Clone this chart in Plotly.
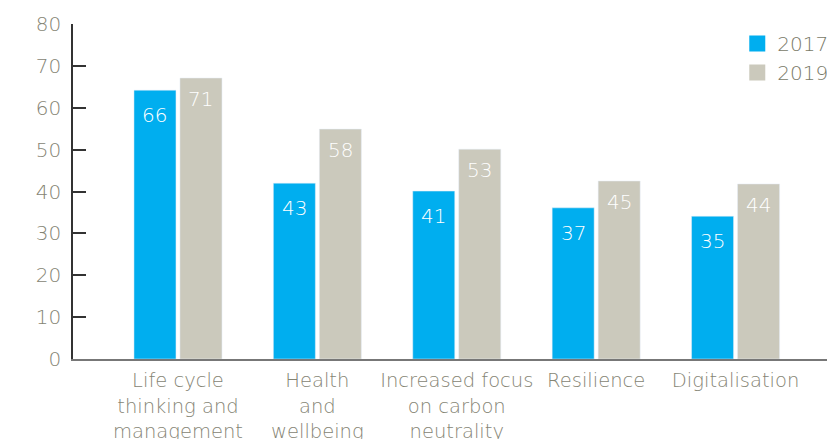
import plotly.graph_objects as go

categories = ["Life cycle<br>thinking and<br>management", "Health<br>and<br>wellbeing",
              "Increased focus<br>on carbon<br>neutrality", "Resilience", "Digitalisation"]
bars_2017 = [64.2, 42.0, 40.1, 36.1, 34.1]
bars_2019 = [67.1, 54.9, 50.1, 42.5, 41.8]
labels_2017 = ["66", "43", "41", "37", "35"]
labels_2019 = ["71", "58", "53", "45", "44"]
y_ticks = [0, 10, 20, 30, 40, 50, 60, 70, 80]

BLUE = "#00AEEF"
GREY = "#CBC9BC"
TEXT = "#858474"
FONT = "DejaVu Sans"
W = 200

fig = go.Figure()
fig.add_trace(go.Bar(x=categories, y=bars_2017, marker_color=BLUE, showlegend=False, hoverinfo="skip"))
fig.add_trace(go.Bar(x=categories, y=bars_2019, marker_color=GREY, showlegend=False, hoverinfo="skip"))
# legend entries
fig.add_trace(go.Scatter(x=[None], y=[None], mode="markers", name="2017",
                         marker=dict(symbol="square", size=17, color=BLUE)))
fig.add_trace(go.Scatter(x=[None], y=[None], mode="markers", name="2019",
                         marker=dict(symbol="square", size=17, color=GREY)))

annotations = []
for cat, v, t in zip(categories, bars_2017, labels_2017):
    annotations.append(dict(x=cat, y=v, text=t, showarrow=False, xshift=-23, yshift=-25,
                            yanchor="middle", font=dict(family=FONT, size=20, color="white", weight=W)))
for cat, v, t in zip(categories, bars_2019, labels_2019):
    annotations.append(dict(x=cat, y=v, text=t, showarrow=False, xshift=23, yshift=-21,
                            yanchor="middle", font=dict(family=FONT, size=20, color="white", weight=W)))

fig.update_layout(
    width=827, height=439,
    margin=dict(l=73, r=0, t=24, b=80, autoexpand=False),
    paper_bgcolor="white", plot_bgcolor="white",
    barmode="group", bargap=0.34, bargroupgap=0.087,
    font=dict(family=FONT, size=19, color=TEXT, weight=W),
    annotations=annotations,
    legend=dict(x=0.881, y=1.0, xanchor="left", yanchor="top",
                font=dict(family=FONT, size=20, color="#7a7a68", weight=W),
                bgcolor="rgba(0,0,0,0)", itemwidth=30),
    xaxis=dict(type="category", range=[-0.753, 4.656], showline=True, linecolor="#777777",
               linewidth=2, ticks="", showgrid=False, zeroline=False, automargin=False,
               ticklabelstandoff=3,
               tickfont=dict(family=FONT, size=19.5, color=TEXT, weight=W)),
    yaxis=dict(range=[0, 80], tickvals=y_ticks, showline=True, linecolor="#333333", linewidth=1.5,
               ticks="inside", ticklen=13, tickwidth=1.5, tickcolor="#333333",
               showgrid=False, zeroline=False, ticklabelstandoff=6, automargin=False,
               tickfont=dict(family=FONT, size=20, color=TEXT, weight=W)),
)

fig.write_html("out.html", config={"displayModeBar": False},
               post_script="document.body.style.margin='0';document.body.style.overflow='hidden';")
